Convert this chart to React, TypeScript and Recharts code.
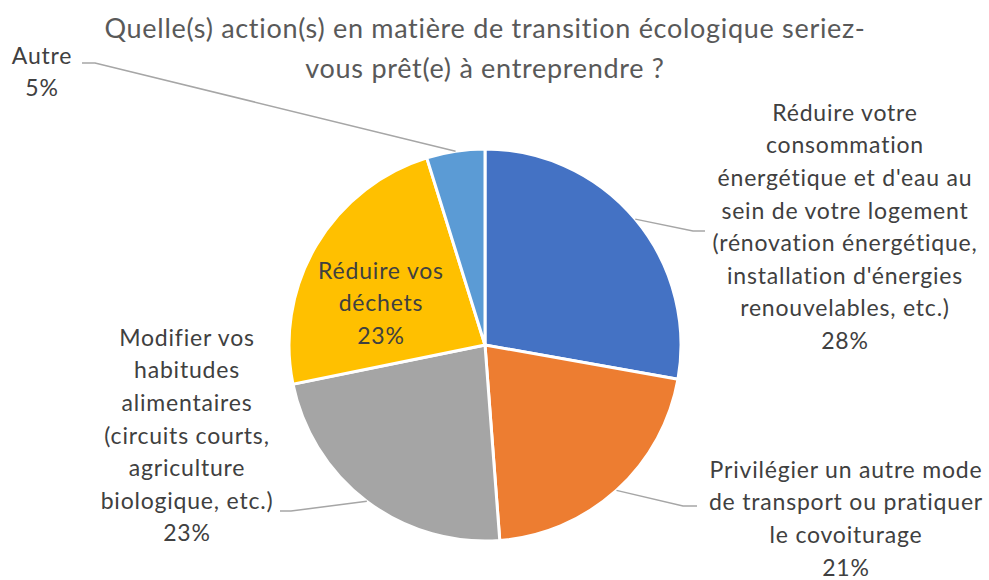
import React from "react";
import { PieChart, Pie, Cell } from "recharts";

const categories = [
  "Réduire votre\nconsommation\nénergétique et d'eau au\nsein de votre logement\n(rénovation énergétique,\ninstallation d'énergies\nrenouvelables, etc.)",
  "Privilégier un autre mode\nde transport ou pratiquer\nle covoiturage",
  "Modifier vos\nhabitudes\nalimentaires\n(circuits courts,\nagriculture\nbiologique, etc.)",
  "Réduire vos\ndéchets",
  "Autre",
];
const values = [27.8, 21.0, 23.0, 23.4, 4.8];
const colors = ["#4472C4", "#ED7D31", "#A5A5A5", "#FFC000", "#5B9BD5"];

const data = categories.map((name, i) => ({ name, value: values[i] }));
const total = values.reduce((a, b) => a + b, 0);

// label placement: text center, first line y, leader elbow and end
const labelLayout = [
  { x: 845, y: 115, elbow: [693, 231], end: 705 },
  { x: 846, y: 472, elbow: [683, 506], end: 697 },
  { x: 187, y: 340, elbow: [291, 511], end: 280 },
  { x: 381, y: 273, elbow: null, end: 0 },
  { x: 42, y: 58, elbow: [95, 63], end: 82 },
];

const RADIAN = Math.PI / 180;
const LINE_H = 32.6;
const FONT = "Lato, 'Noto Sans', sans-serif";

const renderLabel = (props: any) => {
  const { cx, cy, midAngle, outerRadius, index, name, value } = props;
  const lay = labelLayout[index];
  const lines = String(name).split("\n");
  lines.push(Math.round((value / total) * 100) + "%");
  const sx = cx + outerRadius * Math.cos(-midAngle * RADIAN);
  const sy = cy + outerRadius * Math.sin(-midAngle * RADIAN);
  return (
    <g key={"lbl-" + index}>
      {lay.elbow && (
        <polyline
          points={`${sx},${sy} ${lay.elbow[0]},${lay.elbow[1]} ${lay.end},${lay.elbow[1]}`}
          fill="none"
          stroke="#A6A6A6"
          strokeWidth={1.5}
        />
      )}
      <text
        x={lay.x}
        y={lay.y}
        textAnchor="middle"
        fill="#404040"
        fontSize={23}
        letterSpacing={0.8}
        fontFamily={FONT}
      >
        {lines.map((l, i) => (
          <tspan key={i} x={lay.x} y={lay.y + i * LINE_H} dominantBaseline="middle">
            {l}
          </tspan>
        ))}
      </text>
    </g>
  );
};

export default function App() {
  return (
    <div style={{ position: "absolute", left: 0, top: 0, width: 989, height: 580, background: "#fff" }}>
      <div
        style={{
          position: "absolute",
          left: 0,
          top: 8,
          width: 970,
          textAlign: "center",
          fontFamily: FONT,
          fontSize: 27,
          letterSpacing: 0.7,
          lineHeight: "40px",
          color: "#595959",
        }}
      >
        Quelle(s) action(s) en matière de transition écologique seriez-
        <br />
        vous prêt(e) à entreprendre ?
      </div>
      <PieChart width={989} height={580} margin={{ top: 0, right: 0, bottom: 0, left: 0 }}>
        <Pie
          data={data}
          dataKey="value"
          nameKey="name"
          cx={485}
          cy={345}
          outerRadius={196}
          startAngle={90}
          endAngle={-270}
          stroke="#fff"
          strokeWidth={3}
          label={renderLabel}
          labelLine={false}
          isAnimationActive={false}
        >
          {data.map((d, i) => (
            <Cell key={i} fill={colors[i]} />
          ))}
        </Pie>
      </PieChart>
    </div>
  );
}
